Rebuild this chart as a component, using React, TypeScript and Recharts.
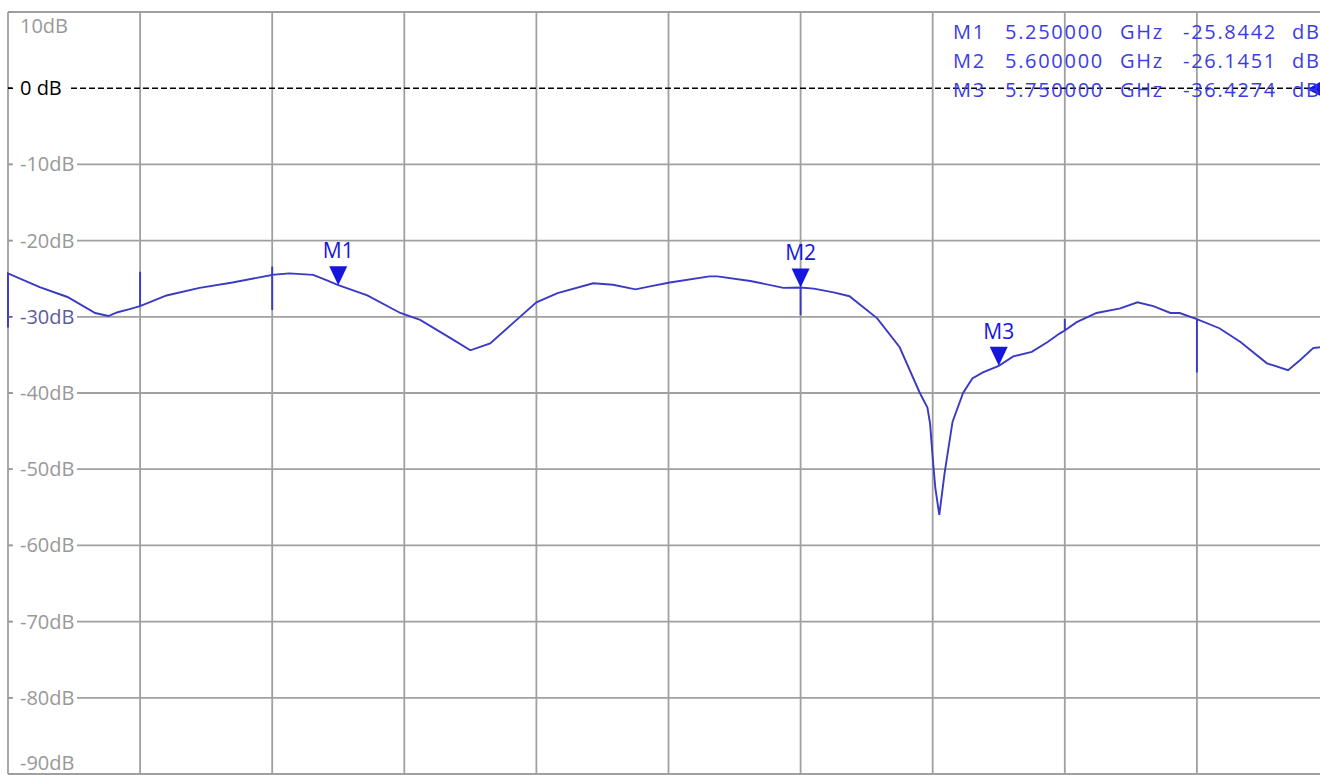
import { LineChart, Line, XAxis, YAxis, CartesianGrid, ReferenceDot, ReferenceLine } from 'recharts';

// trace: frequency (GHz) and level (dB); repeated freqs are the sweep-segment spikes
const freqs = [
  5.0, 5.0, 5.024, 5.045, 5.066, 5.076, 5.083, 5.092, 5.1, 5.1, 5.1,
  5.12, 5.145, 5.17, 5.2, 5.2, 5.2, 5.2, 5.213, 5.231, 5.241, 5.25,
  5.272, 5.297, 5.312, 5.335, 5.35, 5.365, 5.385, 5.4, 5.416, 5.443,
  5.458, 5.475, 5.486, 5.501, 5.531, 5.537, 5.562, 5.587, 5.6, 5.6, 5.6,
  5.61, 5.625, 5.637, 5.658, 5.675, 5.69, 5.696, 5.698, 5.7, 5.702, 5.705,
  5.709, 5.715, 5.723, 5.73, 5.738, 5.75, 5.761, 5.775, 5.787, 5.796,
  5.8, 5.8, 5.8, 5.809, 5.824, 5.842, 5.855, 5.867, 5.88, 5.887,
  5.9, 5.9, 5.9, 5.917, 5.933, 5.953, 5.969, 5.978, 5.988, 5.993, 6.0,
];
const levels = [
  -31.4, -24.3, -26.1, -27.4, -29.5, -29.9, -29.4, -29.0, -28.6, -24.1, -28.6,
  -27.2, -26.2, -25.5, -24.5, -23.4, -29.1, -24.5, -24.3, -24.5, -25.2, -25.84,
  -27.2, -29.5, -30.4, -32.8, -34.4, -33.5, -30.4, -28.1, -26.9, -25.6,
  -25.8, -26.4, -26.0, -25.5, -24.7, -24.7, -25.3, -26.2, -26.15, -29.8, -26.15,
  -26.3, -26.8, -27.3, -30.2, -34.0, -39.9, -41.9, -44.0, -48.5, -52.5, -56.0,
  -50.5, -43.8, -40.0, -38.1, -37.3, -36.43, -35.2, -34.6, -33.3, -32.2,
  -31.8, -30.3, -31.8, -30.7, -29.5, -28.9, -28.1, -28.6, -29.5, -29.5,
  -30.3, -37.3, -30.3, -31.5, -33.3, -36.1, -37.0, -35.7, -34.1, -34.0, -33.8,
];

const xTicks = [5.0, 5.1, 5.2, 5.3, 5.4, 5.5, 5.6, 5.7, 5.8, 5.9, 6.0];
const yTicks = [10, 0, -10, -20, -30, -40, -50, -60, -70, -80, -90];

const markerNames = ['M1', 'M2', 'M3'];
const markerFreqs = [5.25, 5.6, 5.75];
const markerLevels = [-25.8442, -26.1451, -36.4274];

const data = freqs.map((f, i) => ({ f, db: levels[i] }));

const FONT = '"Open Sans", sans-serif';
const GRID = '#a0a0a0';
const LABEL = '#999999';
const TRACE = '#3a3ac4';
const MARK = '#1616de';

// dB label drawn inside the plot, on a white patch that hides the grid line
function YLabel(props: any) {
  const { cx, cy, value } = props;
  const isZero = value === 0;
  let dy = 0;
  if (value === 10) dy = 14;
  if (value === -90) dy = -11;
  const w = isZero ? 58 : 64;
  const color = isZero ? '#000' : value === -30 ? '#5c5ca0' : LABEL;
  return (
    <g>
      {value !== 10 && value !== -90 && (
        <rect x={cx + 5} y={cy - 11} width={w} height={22} fill="#fff" />
      )}
      <line x1={cx} x2={cx + 4} y1={cy} y2={cy} stroke={color} strokeWidth={1.5} />
      <text x={cx + 12} y={cy + dy} dy="0.35em" fill={color} fontSize={20} fontFamily={FONT}>
        {isZero ? '0 dB' : `${value}dB`}
      </text>
    </g>
  );
}

function MarkerShape(props: any) {
  const { cx, cy, name } = props;
  return (
    <g>
      <polygon points={`${cx - 9},${cy - 19} ${cx + 9},${cy - 19} ${cx},${cy}`} fill={MARK} />
      <text x={cx} y={cy - 27} textAnchor="middle" fill={MARK} fontSize={21} fontWeight={500} fontFamily={FONT}>
        {name}
      </text>
    </g>
  );
}

function RefLevelShape(props: any) {
  const { cx, cy } = props;
  return <polygon points={`${cx - 22},${cy + 1} ${cx - 4},${cy - 9} ${cx - 4},${cy + 10}`} fill={MARK} />;
}

export default function App() {
  return (
    <div
      style={{
        position: 'absolute',
        left: 0,
        top: 0,
        width: 1320,
        height: 775,
        overflow: 'hidden',
        background: '#fff',
      }}
    >
      <LineChart width={1330} height={775} data={data} margin={{ top: 12, right: 1, left: 8, bottom: 1 }}>
        <CartesianGrid
          stroke={GRID}
          strokeWidth={1.8}
          verticalValues={xTicks}
          horizontalValues={yTicks.filter((t) => t !== 0)}
        />
        <XAxis type="number" dataKey="f" domain={[5, 6]} ticks={xTicks} hide />
        <YAxis type="number" domain={[-90, 10]} ticks={yTicks} hide />
        <ReferenceLine y={0} stroke="#000" strokeWidth={1.5} strokeDasharray="6 3" />
        <Line
          type="linear"
          dataKey="db"
          stroke={TRACE}
          strokeWidth={1.9}
          dot={false}
          activeDot={false}
          isAnimationActive={false}
        />
        {yTicks.map((t) => (
          <ReferenceDot
            key={`y${t}`}
            x={5}
            y={t}
            ifOverflow="visible"
            shape={(p: any) => <YLabel {...p} value={t} />}
          />
        ))}
        {markerNames.map((name, i) => (
          <ReferenceDot
            key={name}
            x={markerFreqs[i]}
            y={markerLevels[i]}
            ifOverflow="visible"
            shape={(p: any) => <MarkerShape {...p} name={name} />}
          />
        ))}
        <ReferenceDot x={6} y={0} ifOverflow="visible" shape={(p: any) => <RefLevelShape {...p} />} />
      </LineChart>
      <svg
        width={1320}
        height={120}
        style={{ position: 'absolute', left: 0, top: 0, pointerEvents: 'none' }}
      >
        {markerNames.map((name, i) => {
          const y = 39 + i * 29;
          const tStyle = { fontFamily: FONT, fontSize: 20, fill: '#3c3ce6', letterSpacing: 1.7 };
          return (
            <g key={name}>
              <text x={953} y={y} style={tStyle}>{name}</text>
              <text x={1005} y={y} style={tStyle}>{markerFreqs[i].toFixed(6)}</text>
              <text x={1120} y={y} style={tStyle}>GHz</text>
              <text x={1183} y={y} style={tStyle}>{markerLevels[i].toFixed(4)}</text>
              <text x={1292} y={y} style={tStyle}>dB</text>
            </g>
          );
        })}
      </svg>
    </div>
  );
}
